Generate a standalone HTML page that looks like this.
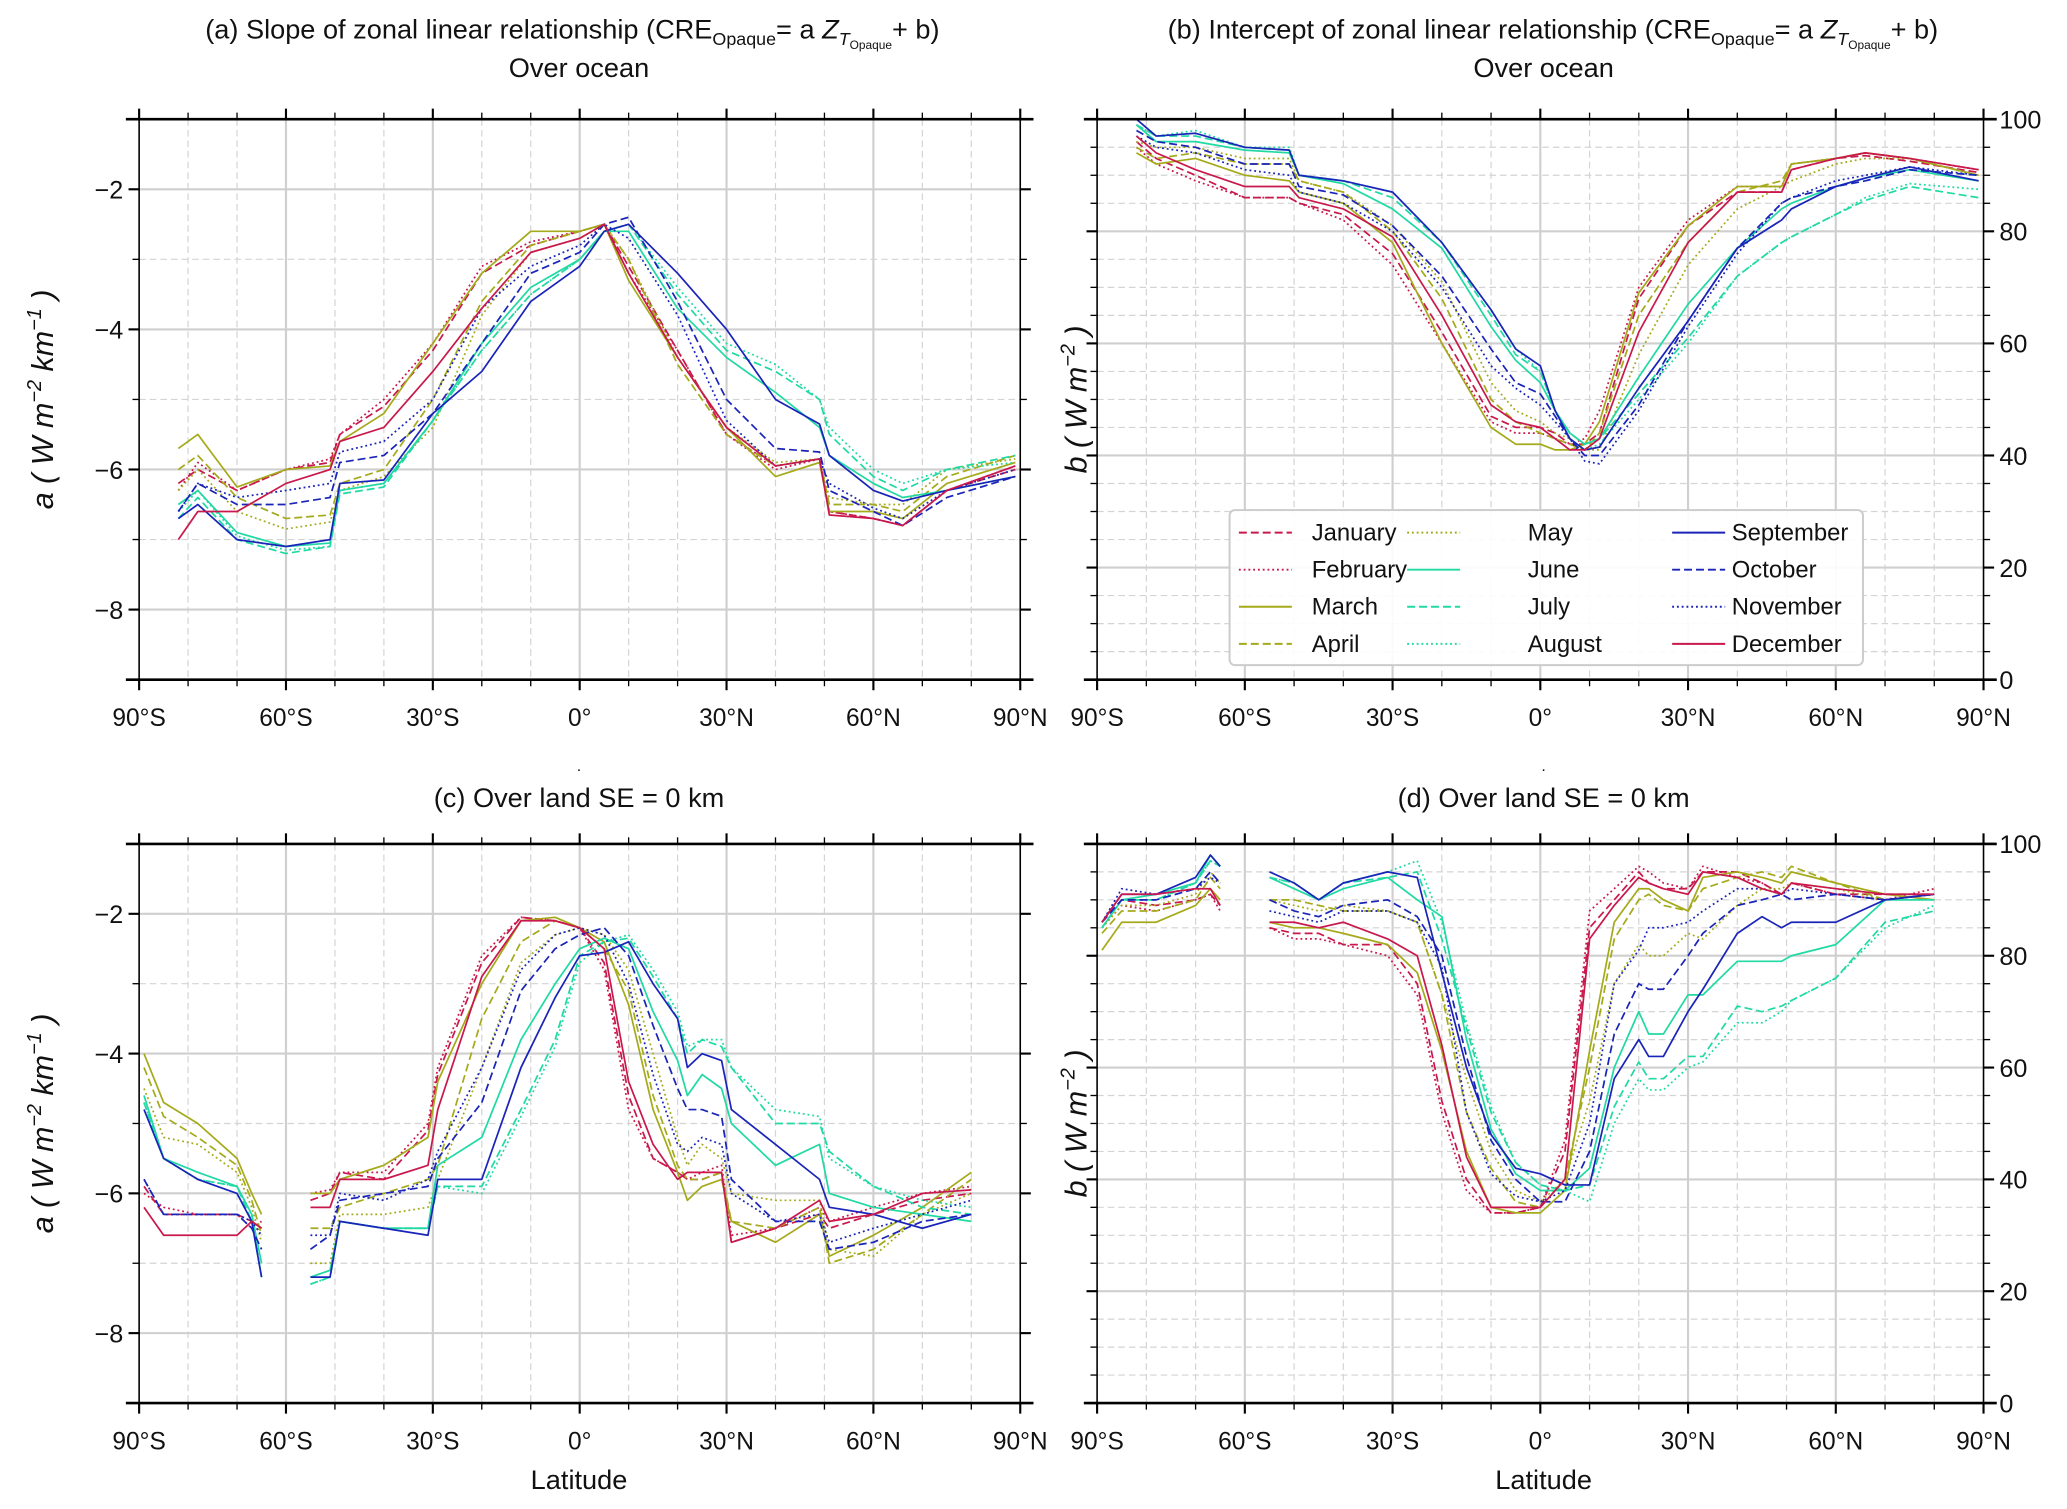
<!DOCTYPE html>
<html><head><meta charset="utf-8"><style>
html,body{margin:0;padding:0;background:#fff;}
svg{display:block;font-family:"Liberation Sans","DejaVu Sans",sans-serif;}
</style></head><body>
<svg id="chart" width="2067" height="1509" viewBox="0 0 1560 1139" preserveAspectRatio="none" xmlns="http://www.w3.org/2000/svg">
<g font-size="20.5" fill="#111" text-anchor="middle">
<text x="432" y="29">(a) Slope of zonal linear relationship (CRE<tspan font-size="13.5" dy="5">Opaque</tspan><tspan dy="-5">= a </tspan><tspan font-style="italic">Z</tspan><tspan font-size="13.5" font-style="italic" dy="5">T</tspan><tspan font-size="9" dy="3">Opaque</tspan><tspan dy="-8">+ b)</tspan></text>
<text x="437" y="58">Over ocean</text>
<text x="1172" y="29">(b) Intercept of zonal linear relationship (CRE<tspan font-size="13.5" dy="5">Opaque</tspan><tspan dy="-5">= a </tspan><tspan font-style="italic">Z</tspan><tspan font-size="13.5" font-style="italic" dy="5">T</tspan><tspan font-size="9" dy="3">Opaque</tspan><tspan dy="-8">+ b)</tspan></text>
<text x="1165" y="58">Over ocean</text>
<text x="437" y="582" font-size="12">.</text>
<text x="437" y="609">(c) Over land SE = 0 km</text>
<text x="1165" y="582" font-size="12">.</text>
<text x="1165" y="609">(d) Over land SE = 0 km</text>
<text x="437" y="1124">Latitude</text>
<text x="1165" y="1124">Latitude</text>
</g>
<g id="panels"></g>
</svg>
<script>
// ---------- data ----------
const monthNames=["January","February","March","April","May","June","July","August","September","October","November","December"];
const latA=[-82,-78,-70,-60,-51,-49,-40,-30,-20,-10,0,5,10,20,30,40,49,51,60,66,75,89];
const aJan=[-6.2,-6.0,-6.3,-6.0,-5.9,-5.5,-5.1,-4.3,-3.2,-2.8,-2.6,-2.5,-3.1,-4.3,-5.5,-5.95,-5.85,-6.6,-6.7,-6.8,-6.3,-6.0];
const aFeb=[-6.3,-5.9,-6.3,-6.0,-5.85,-5.5,-5.0,-4.2,-3.1,-2.75,-2.6,-2.5,-3.2,-4.3,-5.5,-6.0,-5.85,-6.6,-6.7,-6.8,-6.3,-5.95];
const aMar=[-5.7,-5.5,-6.25,-6.0,-5.95,-5.6,-5.2,-4.2,-3.2,-2.6,-2.6,-2.5,-3.3,-4.4,-5.4,-6.1,-5.9,-6.6,-6.6,-6.7,-6.2,-5.9];
const aApr=[-6.0,-5.8,-6.4,-6.7,-6.65,-6.2,-6.0,-5.0,-3.6,-2.8,-2.6,-2.5,-3.0,-4.5,-5.5,-5.95,-5.85,-6.5,-6.5,-6.6,-6.1,-5.8];
const aMay=[-6.3,-6.0,-6.6,-6.85,-6.75,-6.3,-6.1,-5.4,-3.8,-2.9,-2.7,-2.5,-3.0,-4.4,-5.4,-5.9,-5.85,-6.4,-6.5,-6.5,-6.0,-5.85];
const aJun=[-6.5,-6.3,-6.9,-7.1,-7.05,-6.3,-6.2,-5.3,-4.2,-3.4,-3.0,-2.6,-2.6,-3.7,-4.4,-4.9,-5.4,-5.8,-6.2,-6.4,-6.3,-6.1];
const aJul=[-6.7,-6.4,-7.0,-7.2,-7.1,-6.35,-6.25,-5.3,-4.3,-3.5,-3.0,-2.6,-2.5,-3.5,-4.3,-4.6,-5.0,-5.5,-6.1,-6.3,-6.0,-5.8];
const aAug=[-6.6,-6.3,-6.95,-7.15,-7.1,-6.3,-6.2,-5.3,-4.3,-3.5,-3.0,-2.6,-2.5,-3.4,-4.2,-4.5,-5.0,-5.4,-6.0,-6.2,-6.0,-5.9];
const aSep=[-6.7,-6.5,-7.0,-7.1,-7.0,-6.2,-6.15,-5.2,-4.6,-3.6,-3.1,-2.6,-2.5,-3.2,-4.0,-5.0,-5.35,-5.8,-6.3,-6.45,-6.3,-6.1];
const aOct=[-6.6,-6.2,-6.5,-6.5,-6.4,-5.9,-5.8,-5.2,-4.2,-3.2,-2.9,-2.5,-2.4,-3.6,-5.0,-5.7,-5.75,-6.3,-6.6,-6.8,-6.4,-6.1];
const aNov=[-6.6,-6.2,-6.4,-6.3,-6.2,-5.75,-5.6,-5.0,-3.7,-3.1,-2.8,-2.5,-2.7,-3.8,-5.3,-5.95,-5.85,-6.2,-6.55,-6.7,-6.3,-6.0];
const aDec=[-7.0,-6.6,-6.6,-6.2,-6.0,-5.6,-5.4,-4.6,-3.7,-2.9,-2.7,-2.5,-3.2,-4.4,-5.4,-5.95,-5.85,-6.65,-6.7,-6.8,-6.3,-5.95];

const latB=[-82,-78,-70,-60,-51,-49,-40,-30,-20,-10,-5,0,3,6,9,12,20,30,40,49,51,60,66,75,89];
const bJan=[96,93,90,86,86,85,83,76,62,47,45,45,44,42,42,44,68,81,87,87,91,93,93.5,92.5,90.5];
const bFeb=[95,92,89,86,86,85,82,74,60,46,44,44,43,42,43,48,70,82,88,88,92,93,94,93,91];
const bMar=[94,92,93,90,89,87,85,78,60,45,42,42,41,41,42,46,69,81,88,88,92,93,94,93,90];
const bApr=[95,93,94,92,92,89,87,80,68,50,46,44,43,42,41,44,65,78,87,89,92,93,94,93,90];
const bMay=[96,95,95,93,93,89,87,81,71,53,48,46,44,43,41,41,58,74,84,88,89,92,93,93,90];
const bJun=[99,96,96,94.5,94,90,88.5,84,77,63,57,53,48,44,42,43,54,67,77,84,85,88,89.5,91,89];
const bJul=[99,97,97,95,94.5,90,89,86,78,65,58,55,48,44,42,43,51,61,72,78,79,83,85.5,88,86];
const bAug=[99,97,98,95,95,90,89,87,78,66,59,55,48,43,41,42,50,60,72,78,79,83,86,88.5,87.5];
const bSep=[100,97,97.5,95,94.5,90,89,87,78,66,59,56,48,43,41,41.5,52,64,77,82,84,88,89.5,91.5,89];
const bOct=[98,96,95,92,92,88,86.5,81,72,59,53,51,47,43,40,40,49,64,77,85,86,88,89,91,90];
const bNov=[97,95,94,91,90,87,85,80,70,56,52,49,46,43,39,38.5,48,63,76,85,86,89,90,91.5,90];
const bDec=[97,94,91,88,88,86,84,79,65,49,46,45,43,41,41,43,62,78,87,87,91,93,94,93,91];

const latC=[-89,-85,-78,-70,-67,-65,null,-55,-51,-49,-40,-31,-29,-20,-12,-5,0,5,10,15,20,22,25,29,31,40,49,51,60,70,80];
const cJan=[-5.9,-6.3,-6.3,-6.3,-6.4,-6.5,null,-6.1,-6.0,-5.7,-5.8,-5.1,-4.3,-2.7,-2.05,-2.1,-2.2,-2.7,-4.6,-5.5,-5.7,-5.8,-5.8,-5.7,-6.7,-6.5,-6.3,-6.5,-6.3,-6.1,-6.0];
const cFeb=[-6.0,-6.2,-6.3,-6.3,-6.5,-6.4,null,-6.0,-5.95,-5.7,-5.7,-5.0,-4.2,-2.6,-2.05,-2.1,-2.2,-2.8,-4.8,-5.5,-5.7,-5.8,-5.7,-5.6,-6.6,-6.5,-6.2,-6.4,-6.2,-6.0,-5.9];
const cMar=[-4.0,-4.7,-5.0,-5.5,-6.0,-6.3,null,-6.0,-6.0,-5.8,-5.6,-5.2,-4.4,-3.0,-2.1,-2.05,-2.2,-2.4,-3.3,-4.8,-5.7,-6.1,-5.9,-5.8,-6.4,-6.7,-6.3,-6.9,-6.6,-6.2,-5.7];
const cApr=[-4.2,-4.9,-5.2,-5.6,-6.1,-6.6,null,-6.5,-6.5,-6.2,-6.0,-5.8,-5.6,-3.5,-2.4,-2.1,-2.2,-2.5,-3.1,-4.6,-5.6,-5.8,-5.8,-5.7,-6.4,-6.5,-6.2,-7.0,-6.8,-6.3,-5.8];
const cMay=[-4.5,-5.2,-5.3,-5.7,-6.2,-6.7,null,-7.0,-7.0,-6.3,-6.3,-6.2,-5.8,-4.2,-2.7,-2.3,-2.2,-2.3,-2.8,-4.0,-5.2,-5.6,-5.3,-5.5,-6.0,-6.1,-6.1,-6.8,-6.9,-6.3,-6.0];
const cJun=[-4.6,-5.5,-5.7,-5.9,-6.3,-7.0,null,-7.2,-7.1,-6.4,-6.5,-6.5,-5.6,-5.2,-3.8,-3.0,-2.5,-2.35,-2.5,-3.4,-4.1,-4.6,-4.3,-4.5,-5.0,-5.6,-5.3,-6.0,-6.2,-6.3,-6.4];
const cJul=[-4.7,-5.5,-5.8,-5.9,-6.4,-7.2,null,-7.3,-7.2,-6.4,-6.5,-6.5,-5.9,-5.9,-4.8,-3.8,-2.6,-2.4,-2.35,-2.9,-3.5,-4.0,-3.8,-3.9,-4.2,-5.0,-5.0,-5.4,-5.9,-6.2,-6.3];
const cAug=[-4.7,-5.5,-5.8,-5.9,-6.3,-7.2,null,-7.3,-7.2,-6.4,-6.5,-6.5,-5.9,-6.0,-4.9,-3.9,-2.7,-2.4,-2.3,-2.8,-3.4,-3.9,-3.8,-3.8,-4.2,-4.8,-4.9,-5.5,-5.9,-6.1,-6.2];
const cSep=[-4.8,-5.5,-5.8,-6.0,-6.4,-7.2,null,-7.2,-7.2,-6.4,-6.5,-6.6,-5.8,-5.8,-4.2,-3.2,-2.6,-2.55,-2.4,-3.0,-3.5,-4.2,-4.0,-4.1,-4.8,-5.3,-5.8,-6.2,-6.3,-6.5,-6.3];
const cOct=[-5.8,-6.3,-6.3,-6.3,-6.5,-6.8,null,-6.8,-6.6,-6.1,-6.0,-5.9,-5.5,-4.7,-3.1,-2.5,-2.3,-2.2,-2.6,-3.6,-4.5,-4.8,-4.8,-4.9,-5.8,-6.4,-6.4,-6.8,-6.7,-6.4,-6.3];
const cNov=[-5.8,-6.3,-6.3,-6.3,-6.4,-6.6,null,-6.6,-6.6,-6.0,-6.1,-5.8,-5.4,-4.2,-2.8,-2.3,-2.2,-2.3,-3.0,-4.3,-5.3,-5.4,-5.2,-5.3,-6.0,-6.4,-6.3,-6.7,-6.5,-6.3,-6.1];
const cDec=[-6.2,-6.6,-6.6,-6.6,-6.4,-6.5,null,-6.2,-6.2,-5.8,-5.8,-5.6,-4.8,-2.9,-2.1,-2.1,-2.2,-2.5,-4.4,-5.3,-5.8,-5.7,-5.7,-5.7,-6.7,-6.5,-6.1,-6.4,-6.3,-6.0,-5.95];

const latD=[-89,-85,-78,-70,-67,-65,null,-55,-50,-45,-40,-31,-25,-20,-15,-10,-5,0,5,10,15,20,22,25,30,33,40,45,49,51,60,70,80];
const dJan=[86,90,89,90,91,89,null,85,84,84,82,82,75,54,40,34,34,35,45,85,90,95,93,92,92,95,95,93,91,93,91,91,91];
const dFeb=[85,89,88,90,91,88,null,85,83,83,82,80,73,52,38,34,34,35,47,88,92,96,95,93,92,96,94,93,91,93,91,90,92];
const dMar=[81,86,86,89,92,90,null,86,85,85,84,82,77,63,45,35,34,34,38,63,86,92,92,90,88,94,95,94,93,95,93,91,90];
const dApr=[84,88,88,90,94,92,null,90,90,89,88,88,86,73,52,42,36,35,40,60,83,90,91,89,88,92,94,95,94,96,93,90,91];
const dMay=[85,89,89,91,95,93,null,90,89,88,89,88,86,73,58,45,38,36,40,54,75,82,80,80,84,83,89,92,92,93,92,90,91];
const dJun=[85,90,91,93,98,96,null,94,92,90,92,94,90,87,65,49,41,38,38,42,60,70,66,66,73,73,79,79,79,80,82,90,90];
const dJul=[85,90,90,93,97,96,null,94,93,90,93,94,95,83,67,52,43,39,38,39,53,61,58,58,62,62,71,70,71,72,76,86,88];
const dAug=[85,90,90,93,97,96,null,94,93,90,93,95,97,86,68,53,43,39,38,36,50,58,56,56,60,61,68,68,70,72,76,85,89];
const dSep=[86,91,91,94,98,96,null,95,93,90,93,95,94,77,60,48,42,41,39,39,58,65,62,62,70,74,84,87,85,86,86,90,91];
const dOct=[86,90,90,92,95,93,null,90,88,87,89,90,87,80,62,47,40,36,36,45,66,75,74,74,80,84,89,90,91,90,91,90,91];
const dNov=[86,92,91,92,94,93,null,88,87,86,88,88,86,78,52,41,37,36,38,50,75,81,85,85,86,88,92,92,91,92,91,90,91];
const dDec=[86,91,91,92,92,89,null,86,86,85,86,83,80,64,44,35,35,35,40,83,89,94,93,92,91,95,94,92,91,93,92,91,91];

const xTickValues=[-90,-60,-30,0,30,60,90];
const xTickLabels=["90°S","60°S","30°S","0°","30°N","60°N","90°N"];
const slopeTicks=[-2,-4,-6,-8];
const interceptTicks=[0,20,40,60,80,100];

// ---------- drawing ----------
const NS="http://www.w3.org/2000/svg";
const RED="#c8184c",OLV="#a5aa1b",TEAL="#20d9a3",BLUE="#1a24b8";
const monthColors=[RED,RED,OLV,OLV,OLV,TEAL,TEAL,TEAL,BLUE,BLUE,BLUE,RED];
const monthDash=["6,3","1.4,2.2","","6,3","1.4,2.2","","6,3","1.4,2.2","","6,3","1.4,2.2",""];
const root=document.getElementById("panels");
function mk(tag,attrs,parent){const e=document.createElementNS(NS,tag);for(const k in attrs)e.setAttribute(k,attrs[k]);(parent||root).appendChild(e);return e;}

function drawPanel(p){
  const g=mk("g",{});
  
  
  const X=v=>p.x0+(v+90)/180*(p.x1-p.x0);
  const Y=v=>p.y0+(p.vTop-v)/(p.vTop-p.vBot)*(p.y1-p.y0);
  for(let v=-80;v<=80;v+=10){
    const major=v%30===0;
    const l=mk("line",{x1:X(v),x2:X(v),y1:p.y0,y2:p.y1,stroke:major?"#cfcfcf":"#d4d4d4","stroke-width":major?1.6:0.9,"stroke-dasharray":major?"":"5,3"},g);
    
    
  }
  for(let v=Math.ceil(p.vBot/p.minorStep)*p.minorStep;v<=p.vTop+1e-9;v+=p.minorStep){
    const vv=Math.round(v*100)/100;
    const yy=Y(vv);
    const major=p.majorTicks.includes(vv);
    const len=major?8:5;
    mk("line",{x1:p.x0-len,x2:p.x0,y1:yy,y2:yy,stroke:"#000","stroke-width":major?1.6:1},g);
    mk("line",{x1:p.x1,x2:p.x1+len,y1:yy,y2:yy,stroke:"#000","stroke-width":major?1.6:1},g);
    if(yy<=p.y0+0.5||yy>=p.y1-0.5) continue;
    const l=mk("line",{x1:p.x0,x2:p.x1,y1:yy,y2:yy,stroke:major?"#cfcfcf":"#d4d4d4","stroke-width":major?1.6:0.9,"stroke-dasharray":major?"":"5,3"},g);
    
    
  }
  p.series.forEach((vals,i)=>{
    let d="",pen=false;
    for(let k=0;k<vals.length;k++){
      if(vals[k]===null||p.lats[k]===null){pen=false;continue;}
      d+=(pen?"L":"M")+X(p.lats[k]).toFixed(1)+","+Y(vals[k]).toFixed(1);pen=true;
    }
    const path=mk("path",{d:d,fill:"none",stroke:monthColors[i],"stroke-width":1.3,"stroke-dasharray":monthDash[i],"stroke-linejoin":"round"},g);
    
    
  });
  mk("line",{x1:p.x0,x2:p.x0,y1:p.y0,y2:p.y1,stroke:"#000","stroke-width":1.2},g);
  mk("line",{x1:p.x1,x2:p.x1,y1:p.y0,y2:p.y1,stroke:"#000","stroke-width":1.2},g);
  mk("line",{x1:p.x0-10,x2:p.x1+10,y1:p.y0,y2:p.y0,stroke:"#000","stroke-width":2},g);
  mk("line",{x1:p.x0-10,x2:p.x1+10,y1:p.y1,y2:p.y1,stroke:"#000","stroke-width":2},g);
  for(let v=-90;v<=90;v+=10){
    const major=v%30===0,len=major?8:5;
    mk("line",{x1:X(v),x2:X(v),y1:p.y1,y2:p.y1+len,stroke:"#000","stroke-width":major?1.6:1},g);
    mk("line",{x1:X(v),x2:X(v),y1:p.y0-len,y2:p.y0,stroke:"#000","stroke-width":major?1.6:1},g);
  }
  xTickValues.forEach((v,i)=>{
    const t=mk("text",{x:X(v),y:p.y1+35,"font-size":18.5,"text-anchor":"middle",fill:"#111"},g);
    t.textContent=xTickLabels[i];
    
    
  });
  p.majorTicks.forEach(v=>{
    const right=p.labelSide==="right";
    const t=mk("text",{x:right?p.x1+12:p.x0-12,y:Y(v)+7,"font-size":19,"text-anchor":right?"start":"end",fill:"#111"},g);
    t.textContent=v<0?"\u2212"+Math.abs(v):String(v);
    
    
  });
  const cy=(p.y0+p.y1)/2;
  const yt=mk("text",{x:p.titleX,y:cy,"font-size":23,"text-anchor":"middle",fill:"#111",transform:`rotate(-90 ${p.titleX} ${cy})`,"font-style":"italic"},g);
  
  
  yt.innerHTML=p.yTitle;
}

const aTitle='a ( W  m<tspan font-size="15" dy="-9">\u22122</tspan><tspan dy="9">  km</tspan><tspan font-size="15" dy="-9">\u22121</tspan><tspan dy="9"> )</tspan>';
const bTitle='b ( W  m<tspan font-size="15" dy="-9">\u22122</tspan><tspan dy="9"> )</tspan>';

drawPanel({name:"panel-a",x0:105,x1:770,y0:90,y1:513,vTop:-1,vBot:-9,minorStep:1,majorTicks:slopeTicks,labelSide:"left",titleX:40,yTitle:aTitle,lats:latA,
  series:[aJan,aFeb,aMar,aApr,aMay,aJun,aJul,aAug,aSep,aOct,aNov,aDec]});
drawPanel({name:"panel-b",x0:828,x1:1497,y0:90,y1:513,vTop:100,vBot:0,minorStep:5,majorTicks:interceptTicks,labelSide:"right",titleX:820,yTitle:bTitle,lats:latB,
  series:[bJan,bFeb,bMar,bApr,bMay,bJun,bJul,bAug,bSep,bOct,bNov,bDec]});
drawPanel({name:"panel-c",x0:105,x1:770,y0:637,y1:1059,vTop:-1,vBot:-9,minorStep:1,majorTicks:slopeTicks,labelSide:"left",titleX:40,yTitle:aTitle,lats:latC,
  series:[cJan,cFeb,cMar,cApr,cMay,cJun,cJul,cAug,cSep,cOct,cNov,cDec]});
drawPanel({name:"panel-d",x0:828,x1:1497,y0:637,y1:1059,vTop:100,vBot:0,minorStep:5,majorTicks:interceptTicks,labelSide:"right",titleX:820,yTitle:bTitle,lats:latD,
  series:[dJan,dFeb,dMar,dApr,dMay,dJun,dJul,dAug,dSep,dOct,dNov,dDec]});

const lg=mk("g",{});


mk("rect",{x:928,y:385,width:478,height:117,rx:4,fill:"#fff","fill-opacity":0.9,stroke:"#cccccc","stroke-width":1.5},lg);
const colX=[935,1062,1262],txtX=[990,1153,1307],rowY=[402,430,458,486];
monthNames.forEach((m,i)=>{
  const c=Math.floor(i/4),r=i%4;
  const e=mk("g",{},lg);
  
  
  mk("line",{x1:colX[c],x2:colX[c]+40,y1:rowY[r],y2:rowY[r],stroke:monthColors[i],"stroke-width":1.5,"stroke-dasharray":monthDash[i]},e);
  const t=mk("text",{x:txtX[c],y:rowY[r]+6,"font-size":18,fill:"#111"},e);
  t.textContent=m;
});
</script>
</body></html>
